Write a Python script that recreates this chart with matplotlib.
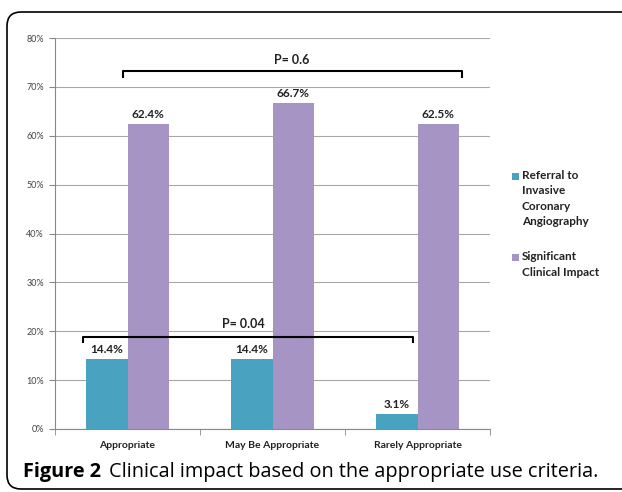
import numpy as np
import matplotlib
matplotlib.use("Agg")
import matplotlib.pyplot as plt
from matplotlib.patches import FancyBboxPatch, Rectangle
from matplotlib.transforms import IdentityTransform
from matplotlib.ticker import FixedLocator, PercentFormatter

categories = ["Appropriate", "May Be Appropriate", "Rarely Appropriate"]
referral = [14.4, 14.4, 3.1]
impact = [62.4, 66.7, 62.5]
series_names = ["Referral to\nInvasive\nCoronary\nAngiography", "Significant\nClinical Impact"]
y_ticks = [0, 10, 20, 30, 40, 50, 60, 70, 80]

TEAL = "#48A2C0"
PURPLE = "#A694C4"
CHART_FONT = ["Lato", "DejaVu Sans"]
CAPTION_FONT = ["Open Sans", "DejaVu Sans"]
W, H = 622, 492

fig = plt.figure(figsize=(W / 100, H / 100), dpi=100)

# rounded frame around the panel (pixel coords), right side runs off the image
frame = FancyBboxPatch((7, 3), 660, 477, boxstyle="round,pad=0,rounding_size=14",
                       transform=IdentityTransform(), fill=False,
                       edgecolor="black", linewidth=1.2, clip_on=False)
fig.patches.append(frame)

ax = fig.add_axes([55 / W, 1 - 429 / H, 435 / W, 391 / H])

x = np.arange(len(categories))
w = 0.283
ax.bar(x - w / 2, referral, w, color=TEAL, zorder=3)
ax.bar(x + w / 2, impact, w, color=PURPLE, zorder=3)

for xi, v in zip(x, referral):
    ax.text(xi - w / 2, v + 0.8, f"{v:.1f}%", ha="center", va="bottom",
            fontsize=8.5, fontweight="bold", family=CHART_FONT, color="#222")
for xi, v in zip(x, impact):
    ax.text(xi + w / 2, v + 0.8, f"{v:.1f}%", ha="center", va="bottom",
            fontsize=8.5, fontweight="bold", family=CHART_FONT, color="#222")

ax.set_xlim(-0.5, 2.5)
ax.set_ylim(0, 80)
ax.yaxis.set_major_locator(FixedLocator(y_ticks))
ax.yaxis.set_major_formatter(PercentFormatter(decimals=0))
ax.grid(axis="y", color="#a8a8a8", linewidth=0.8, zorder=0)

ax.set_xticks(x)
ax.set_xticklabels(categories, fontsize=7.5, fontweight="bold", family=CHART_FONT, color="#222")
ax.tick_params(axis="x", length=0, pad=9)
ax.set_xticks([-0.5, 0.5, 1.5, 2.5], minor=True)
ax.tick_params(axis="x", which="minor", length=4, color="#888")
ax.tick_params(axis="y", length=4, color="#888", labelsize=6.5, labelcolor="#444", pad=4)
for lbl in ax.get_yticklabels():
    lbl.set_family(CHART_FONT)

for side in ["top", "right"]:
    ax.spines[side].set_visible(False)
ax.spines["left"].set_color("#888")
ax.spines["bottom"].set_color("#888")


# significance brackets
def bracket(x0, x1, y, drop, label, lx, ly):
    ax.plot([x0, x0, x1, x1], [y - drop, y, y, y - drop], color="black",
            linewidth=1.5, zorder=4, clip_on=False, solid_capstyle="butt")
    ax.text(lx, ly, label, ha="center", va="center", fontsize=9,
            fontweight="bold", family=CHART_FONT, color="#222")


bracket(-0.03, 2.31, 73.2, 1.3, "P= 0.6", 1.13, 75.6)
bracket(-0.31, 1.97, 18.9, 1.3, "P= 0.04", 0.80, 21.4)

# legend, Excel style: marker beside the first line of each entry
for name, color, top in zip(series_names, [TEAL, PURPLE], [170, 251]):
    fig.patches.append(Rectangle((512, H - top - 10), 7, 7, transform=IdentityTransform(),
                                 facecolor=color, edgecolor="none"))
    fig.text(522 / W, 1 - top / H, name, ha="left", va="top", linespacing=1.5,
             fontsize=8.5, fontweight="bold", family=CHART_FONT, color="#222")

# caption: bold figure number followed by plain text
cap_y = 1 - 472 / H
head = fig.text(23 / W, cap_y, "Figure 2", fontsize=14.3, fontweight="bold",
                family=CAPTION_FONT, va="center", ha="left")
fig.canvas.draw()
bb = head.get_window_extent()
fig.text((bb.x1 + 8) / W, cap_y, "Clinical impact based on the appropriate use criteria.",
         fontsize=14.3, family=CAPTION_FONT, va="center", ha="left")

fig.savefig("out.png", dpi=100)
